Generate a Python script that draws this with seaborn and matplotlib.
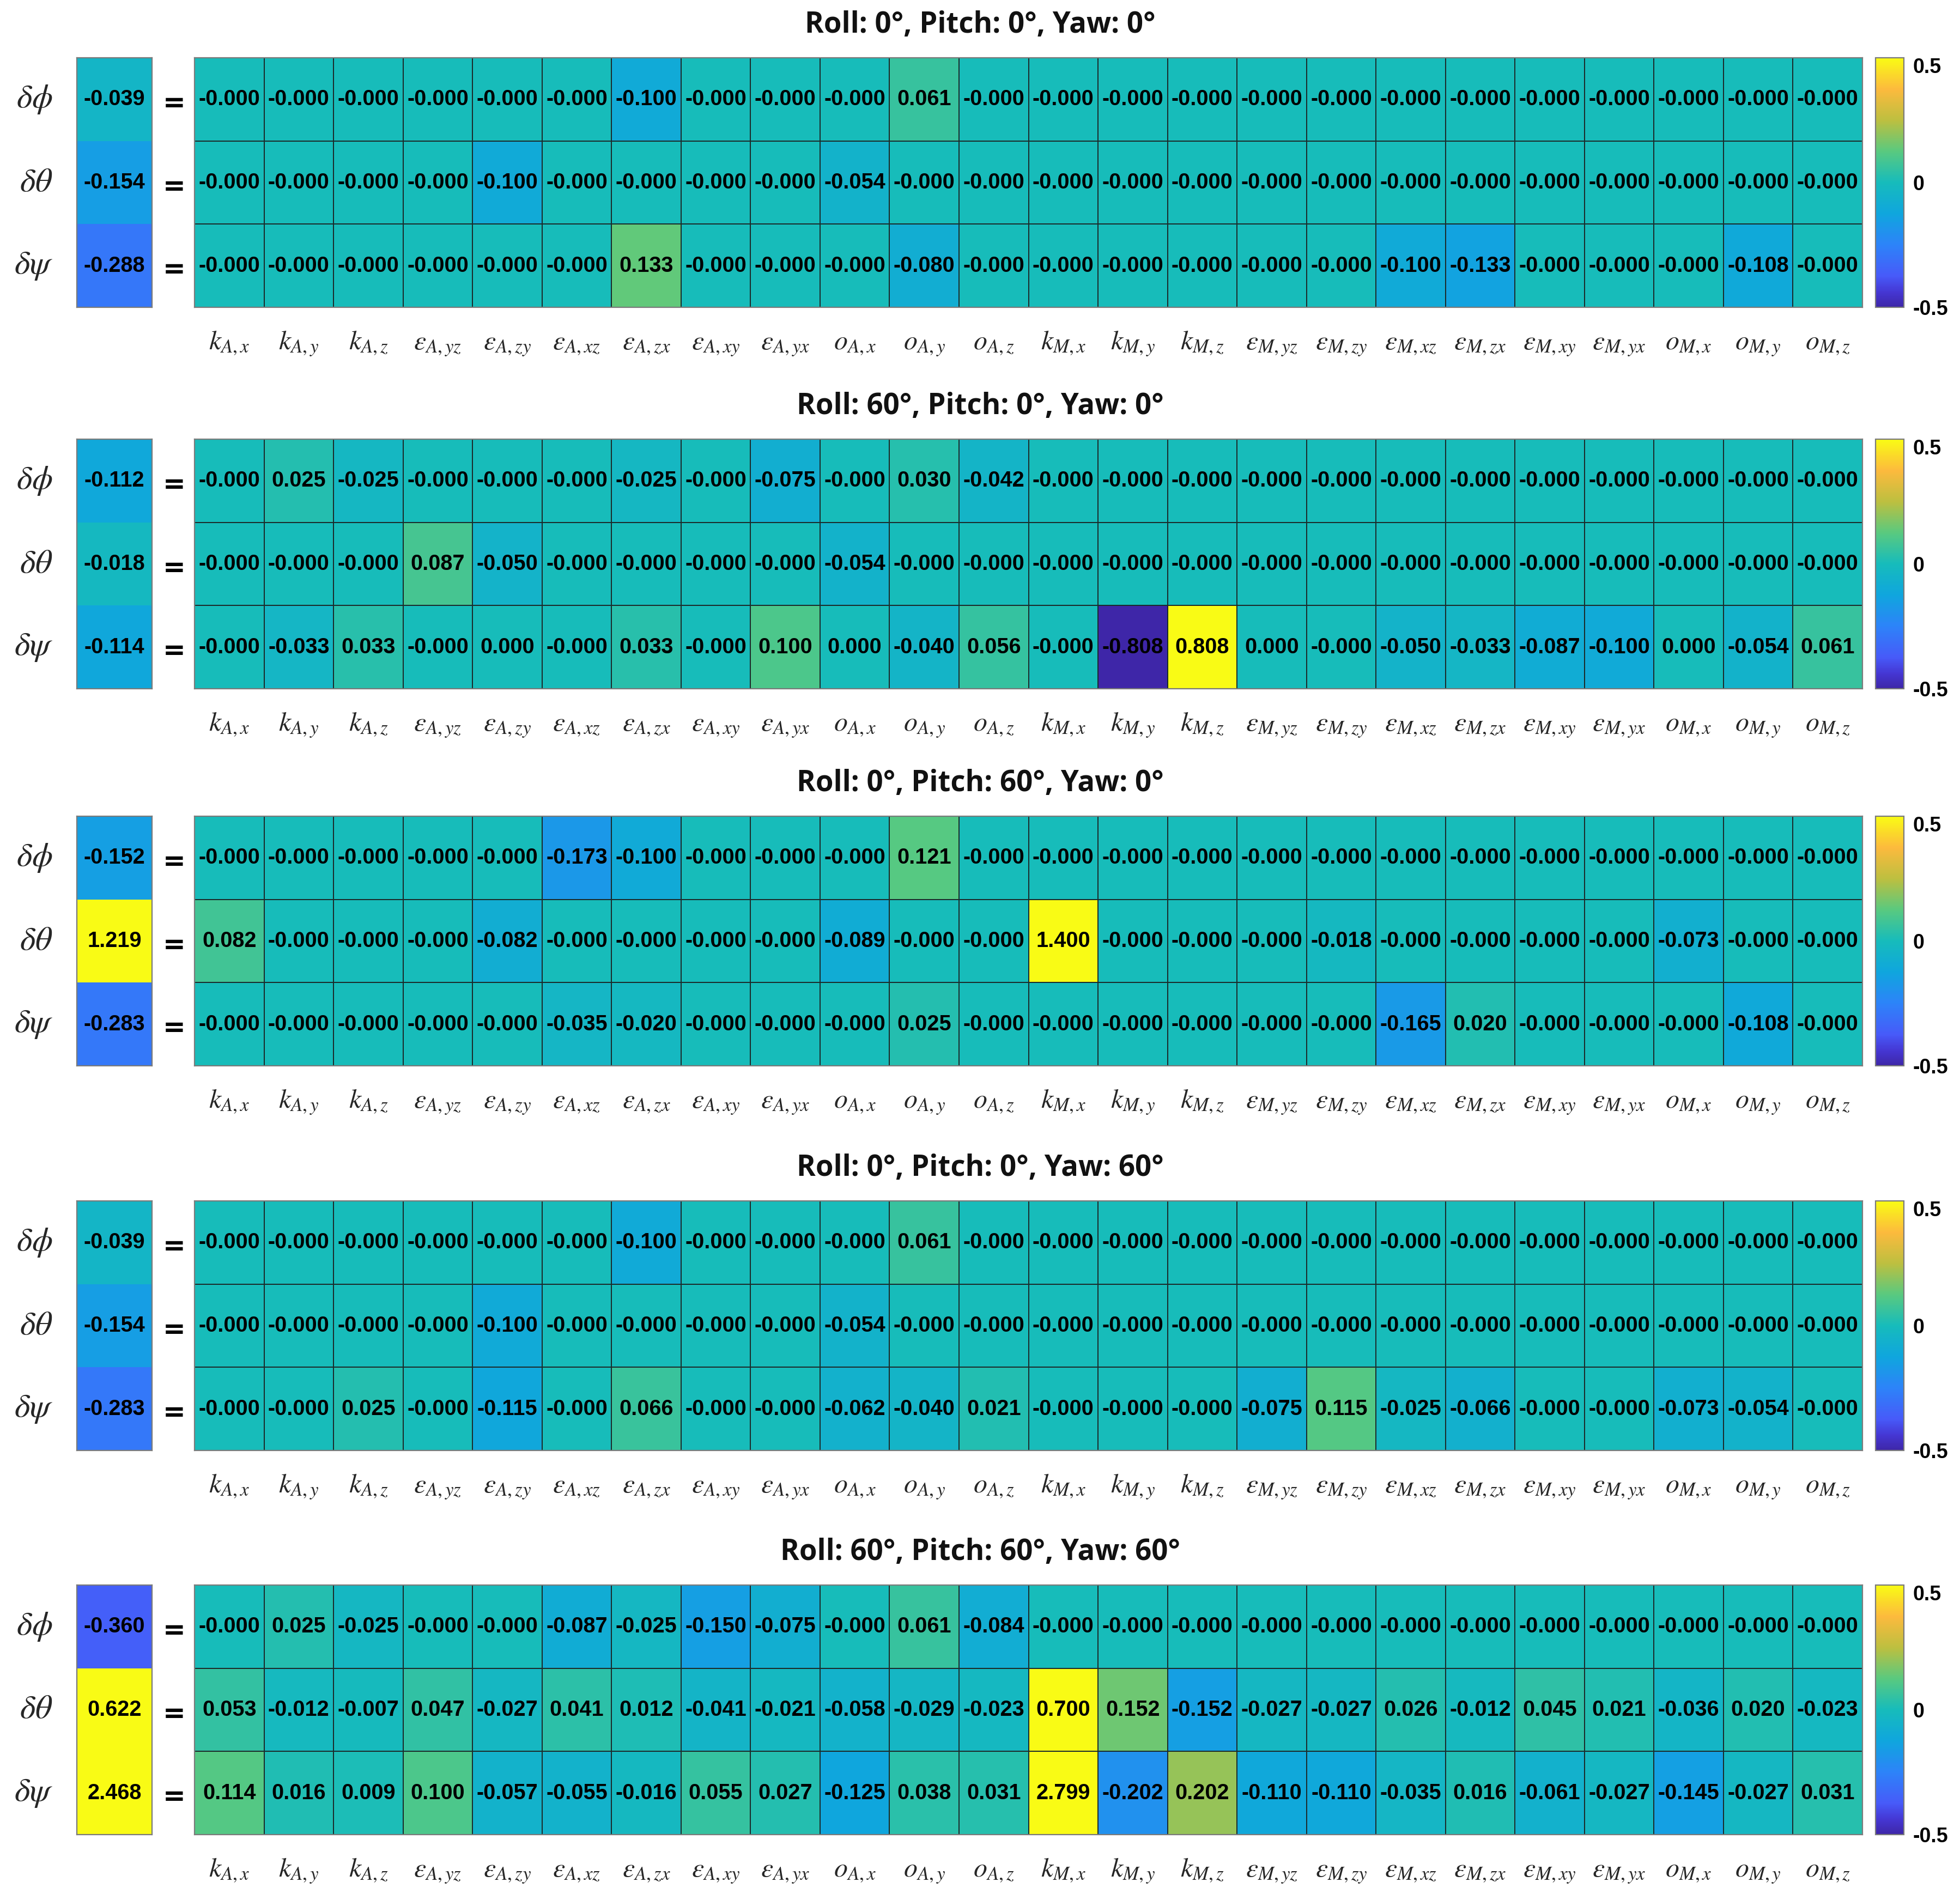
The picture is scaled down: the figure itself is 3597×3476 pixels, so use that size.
import numpy as np
import matplotlib
matplotlib.use("Agg")
import matplotlib.pyplot as plt
import seaborn as sns
from matplotlib.colors import LinearSegmentedColormap

# ---------------- data ----------------
col_labels = [r"$k_{A,x}$", r"$k_{A,y}$", r"$k_{A,z}$",
              r"$\varepsilon_{A,yz}$", r"$\varepsilon_{A,zy}$", r"$\varepsilon_{A,xz}$",
              r"$\varepsilon_{A,zx}$", r"$\varepsilon_{A,xy}$", r"$\varepsilon_{A,yx}$",
              r"$o_{A,x}$", r"$o_{A,y}$", r"$o_{A,z}$",
              r"$k_{M,x}$", r"$k_{M,y}$", r"$k_{M,z}$",
              r"$\varepsilon_{M,yz}$", r"$\varepsilon_{M,zy}$", r"$\varepsilon_{M,xz}$",
              r"$\varepsilon_{M,zx}$", r"$\varepsilon_{M,xy}$", r"$\varepsilon_{M,yx}$",
              r"$o_{M,x}$", r"$o_{M,y}$", r"$o_{M,z}$"]
row_labels = [r"$\delta\phi$", r"$\delta\theta$", r"$\delta\psi$"]

roll_deg = [0, 60, 0, 0, 60]
pitch_deg = [0, 0, 60, 0, 60]
yaw_deg = [0, 0, 0, 60, 60]

vec1 = [-0.039, -0.154, -0.288]
mat1_phi = [-0.0, -0.0, -0.0, -0.0, -0.0, -0.0, -0.100, -0.0, -0.0, -0.0, 0.061, -0.0,
            -0.0, -0.0, -0.0, -0.0, -0.0, -0.0, -0.0, -0.0, -0.0, -0.0, -0.0, -0.0]
mat1_theta = [-0.0, -0.0, -0.0, -0.0, -0.100, -0.0, -0.0, -0.0, -0.0, -0.054, -0.0, -0.0,
              -0.0, -0.0, -0.0, -0.0, -0.0, -0.0, -0.0, -0.0, -0.0, -0.0, -0.0, -0.0]
mat1_psi = [-0.0, -0.0, -0.0, -0.0, -0.0, -0.0, 0.133, -0.0, -0.0, -0.0, -0.080, -0.0,
            -0.0, -0.0, -0.0, -0.0, -0.0, -0.100, -0.133, -0.0, -0.0, -0.0, -0.108, -0.0]

vec2 = [-0.112, -0.018, -0.114]
mat2_phi = [-0.0, 0.025, -0.025, -0.0, -0.0, -0.0, -0.025, -0.0, -0.075, -0.0, 0.030, -0.042,
            -0.0, -0.0, -0.0, -0.0, -0.0, -0.0, -0.0, -0.0, -0.0, -0.0, -0.0, -0.0]
mat2_theta = [-0.0, -0.0, -0.0, 0.087, -0.050, -0.0, -0.0, -0.0, -0.0, -0.054, -0.0, -0.0,
              -0.0, -0.0, -0.0, -0.0, -0.0, -0.0, -0.0, -0.0, -0.0, -0.0, -0.0, -0.0]
mat2_psi = [-0.0, -0.033, 0.033, -0.0, 0.0, -0.0, 0.033, -0.0, 0.100, 0.0, -0.040, 0.056,
            -0.0, -0.808, 0.808, 0.0, -0.0, -0.050, -0.033, -0.087, -0.100, 0.0, -0.054, 0.061]

vec3 = [-0.152, 1.219, -0.283]
mat3_phi = [-0.0, -0.0, -0.0, -0.0, -0.0, -0.173, -0.100, -0.0, -0.0, -0.0, 0.121, -0.0,
            -0.0, -0.0, -0.0, -0.0, -0.0, -0.0, -0.0, -0.0, -0.0, -0.0, -0.0, -0.0]
mat3_theta = [0.082, -0.0, -0.0, -0.0, -0.082, -0.0, -0.0, -0.0, -0.0, -0.089, -0.0, -0.0,
              1.400, -0.0, -0.0, -0.0, -0.018, -0.0, -0.0, -0.0, -0.0, -0.073, -0.0, -0.0]
mat3_psi = [-0.0, -0.0, -0.0, -0.0, -0.0, -0.035, -0.020, -0.0, -0.0, -0.0, 0.025, -0.0,
            -0.0, -0.0, -0.0, -0.0, -0.0, -0.165, 0.020, -0.0, -0.0, -0.0, -0.108, -0.0]

vec4 = [-0.039, -0.154, -0.283]
mat4_phi = [-0.0, -0.0, -0.0, -0.0, -0.0, -0.0, -0.100, -0.0, -0.0, -0.0, 0.061, -0.0,
            -0.0, -0.0, -0.0, -0.0, -0.0, -0.0, -0.0, -0.0, -0.0, -0.0, -0.0, -0.0]
mat4_theta = [-0.0, -0.0, -0.0, -0.0, -0.100, -0.0, -0.0, -0.0, -0.0, -0.054, -0.0, -0.0,
              -0.0, -0.0, -0.0, -0.0, -0.0, -0.0, -0.0, -0.0, -0.0, -0.0, -0.0, -0.0]
mat4_psi = [-0.0, -0.0, 0.025, -0.0, -0.115, -0.0, 0.066, -0.0, -0.0, -0.062, -0.040, 0.021,
            -0.0, -0.0, -0.0, -0.075, 0.115, -0.025, -0.066, -0.0, -0.0, -0.073, -0.054, -0.0]

vec5 = [-0.360, 0.622, 2.468]
mat5_phi = [-0.0, 0.025, -0.025, -0.0, -0.0, -0.087, -0.025, -0.150, -0.075, -0.0, 0.061, -0.084,
            -0.0, -0.0, -0.0, -0.0, -0.0, -0.0, -0.0, -0.0, -0.0, -0.0, -0.0, -0.0]
mat5_theta = [0.053, -0.012, -0.007, 0.047, -0.027, 0.041, 0.012, -0.041, -0.021, -0.058, -0.029, -0.023,
              0.700, 0.152, -0.152, -0.027, -0.027, 0.026, -0.012, 0.045, 0.021, -0.036, 0.020, -0.023]
mat5_psi = [0.114, 0.016, 0.009, 0.100, -0.057, -0.055, -0.016, 0.055, 0.027, -0.125, 0.038, 0.031,
            2.799, -0.202, 0.202, -0.110, -0.110, -0.035, 0.016, -0.061, -0.027, -0.145, -0.027, 0.031]

vectors = [vec1, vec2, vec3, vec4, vec5]
matrices = [[mat1_phi, mat1_theta, mat1_psi],
            [mat2_phi, mat2_theta, mat2_psi],
            [mat3_phi, mat3_theta, mat3_psi],
            [mat4_phi, mat4_theta, mat4_psi],
            [mat5_phi, mat5_theta, mat5_psi]]

# ---------------- style ----------------
sns.set_style("white")
plt.rcParams["font.family"] = ["Liberation Sans", "DejaVu Sans"]
plt.rcParams["mathtext.fontset"] = "stix"

parula_anchors = [
    (0.000, (0.2422, 0.1504, 0.6603)),
    (0.060, (0.2700, 0.2150, 0.8300)),
    (0.125, (0.2780, 0.3556, 0.9777)),
    (0.250, (0.1750, 0.5150, 0.9750)),
    (0.375, (0.0600, 0.6500, 0.8700)),
    (0.500, (0.0880, 0.7350, 0.7350)),
    (0.625, (0.3500, 0.7900, 0.5000)),
    (0.750, (0.7400, 0.7500, 0.2500)),
    (0.875, (0.9900, 0.7300, 0.2400)),
    (1.000, (0.9769, 0.9839, 0.0805)),
]
parula = LinearSegmentedColormap.from_list("parula", parula_anchors)

W, H = 3597, 3476
fig = plt.figure(figsize=(W / 100, H / 100), dpi=100)

tops = [106, 806, 1498, 2204, 2909]
ph = 458
mat_x0, mat_w = 357, 3061
vec_x0, vec_w = 141, 138
cb_x0, cb_w = 3442, 52

num_kws = dict(fontsize=28.5, fontweight="bold", color="black", family="Liberation Sans")
edge_col = "#7a7a7a"


def rect(x0, w, top):
    return [x0 / W, 1 - (top + ph) / H, w / W, ph / H]


for k in range(5):
    top = tops[k]
    vec = np.array(vectors[k]).reshape(3, 1)
    mat = np.array(matrices[k])

    axv = fig.add_axes(rect(vec_x0, vec_w, top))
    axm = fig.add_axes(rect(mat_x0, mat_w, top))
    cax = fig.add_axes(rect(cb_x0, cb_w, top))

    sns.heatmap(vec, ax=axv, cmap=parula, vmin=-0.5, vmax=0.5, annot=True, fmt=".3f",
                annot_kws=num_kws, cbar=False, xticklabels=False,
                yticklabels=row_labels, linewidths=0)
    axv.tick_params(axis="y", length=0, pad=32, labelsize=44, rotation=0)

    sns.heatmap(mat, ax=axm, cmap=parula, vmin=-0.5, vmax=0.5, annot=True, fmt=".3f",
                annot_kws=num_kws, cbar=True, cbar_ax=cax,
                xticklabels=col_labels, yticklabels=False,
                linewidths=1.1, linecolor="#1b2b2b")
    axm.tick_params(axis="x", length=0, pad=56, labelsize=36, rotation=0)
    for lab in axm.get_xticklabels():
        lab.set_verticalalignment("baseline")

    for ax in (axv, axm):
        for s in ax.spines.values():
            s.set_visible(True)
            s.set_color(edge_col)
            s.set_linewidth(1.6)

    for i in range(3):
        axm.text(-0.29, i + 0.55, "=", ha="center", va="center",
                 fontsize=36, fontweight="bold", color="black", family="DejaVu Sans")

    cbar = axm.collections[0].colorbar
    cbar.set_ticks([-0.5, 0, 0.5])
    cbar.set_ticklabels(["-0.5", "0", "0.5"])
    cbar.outline.set_edgecolor(edge_col)
    cbar.outline.set_linewidth(1.6)
    cax.tick_params(axis="y", direction="in", length=5, width=1.2, pad=12,
                    labelsize=27, colors="#222222")
    for lab in cax.get_yticklabels():
        lab.set_fontweight("bold")
        lab.set_color("black")
    cax.get_yticklabels()[2].set_verticalalignment("top")

    title = f"Roll: {roll_deg[k]}°, Pitch: {pitch_deg[k]}°, Yaw: {yaw_deg[k]}°"
    fig.text(0.5, 1 - (top - 60) / H, title, ha="center", va="center",
             fontsize=38, fontweight="bold", family="Open Sans", color="#111111")

fig.savefig("out.png", dpi=100, facecolor="white")
